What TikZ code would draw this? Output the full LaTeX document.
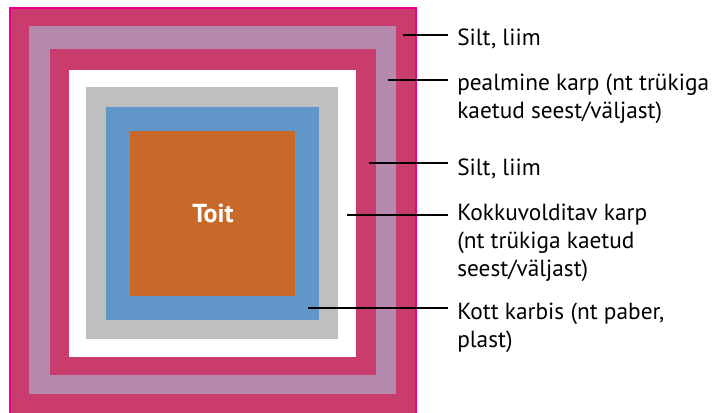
\documentclass[tikz,border=0pt]{standalone}
\usepackage{fontspec}
\setmainfont{PT Sans}
\definecolor{wrapred}{RGB}{203,60,110}
\definecolor{wrapedge}{RGB}{236,0,140}
\definecolor{lidmauve}{RGB}{181,138,174}
\definecolor{bagblue}{RGB}{96,150,200}
\definecolor{foldgray}{RGB}{190,191,193}
\definecolor{foodorange}{RGB}{200,105,42}
\begin{document}
\begin{tikzpicture}[x=0.75pt,y=0.75pt,yscale=-1,xscale=1,
  lbl/.style={anchor=base west,inner sep=0pt,align=left,font=\fontsize{17.5}{21}\selectfont},
  lead/.style={line width=1.5pt}]
\useasboundingbox (0,0) rectangle (725,412);
\clip (0,0) rectangle (725,412);

%Shape: outer label (Silt, liim)
\draw [wrapedge,line width=1.5pt,fill=wrapred] (10,8) rectangle (416,414);
%Shape: pealmine karp
\fill [lidmauve] (29,26) rectangle (396,394);
%Shape: inner label (Silt, liim)
\fill [wrapred] (50,49) rectangle (376,375);
%Shape: white gap
\fill [white] (69,70) rectangle (356,357);
%Shape: kokkuvolditav karp
\fill [foldgray] (86,87) rectangle (338,339);
%Shape: kott
\fill [bagblue] (106,107) rectangle (319,320);
%Shape: toit
\fill [foodorange] (130,131) rectangle (295,296);

% Text Node
\node (toit) [text=white,font=\fontsize{19.5}{21}\selectfont\bfseries] at (213,213) {Toit};

% Text Node (base = last line)
\node (silt1) [lbl] at (457,45) {Silt, liim};
% Text Node
\node (karp) [lbl] at (457,118) {pealmine karp (nt trükiga\\kaetud seest/väljast)};
% Text Node
\node (silt2) [lbl] at (457,175) {Silt, liim};
% Text Node
\node (kokku) [lbl] at (457,276) {Kokkuvolditav karp\\(nt trükiga kaetud\\seest/väljast)};
% Text Node
\node (kott) [lbl] at (457,347) {Kott karbis (nt paber,\\plast)};

% Connection
\coordinate (p1) at (403,35);
\coordinate (p2) at (388,79.5);
\coordinate (p3) at (369,163);
\coordinate (p4) at (347,215);
\coordinate (p5) at (308,308);
\draw [lead] (p1) -- ([xshift=-6.75pt]p1 -| silt1.west);
\draw [lead] (p2) -- ([xshift=-6.75pt]p2 -| karp.west);
\draw [lead] (p3) -- ([xshift=-6.75pt]p3 -| silt2.west);
\draw [lead] (p4) -- ([xshift=-6.75pt]p4 -| kokku.west);
\draw [lead] (p5) -- ([xshift=-6.75pt]p5 -| kott.west);
\end{tikzpicture}
\end{document}
